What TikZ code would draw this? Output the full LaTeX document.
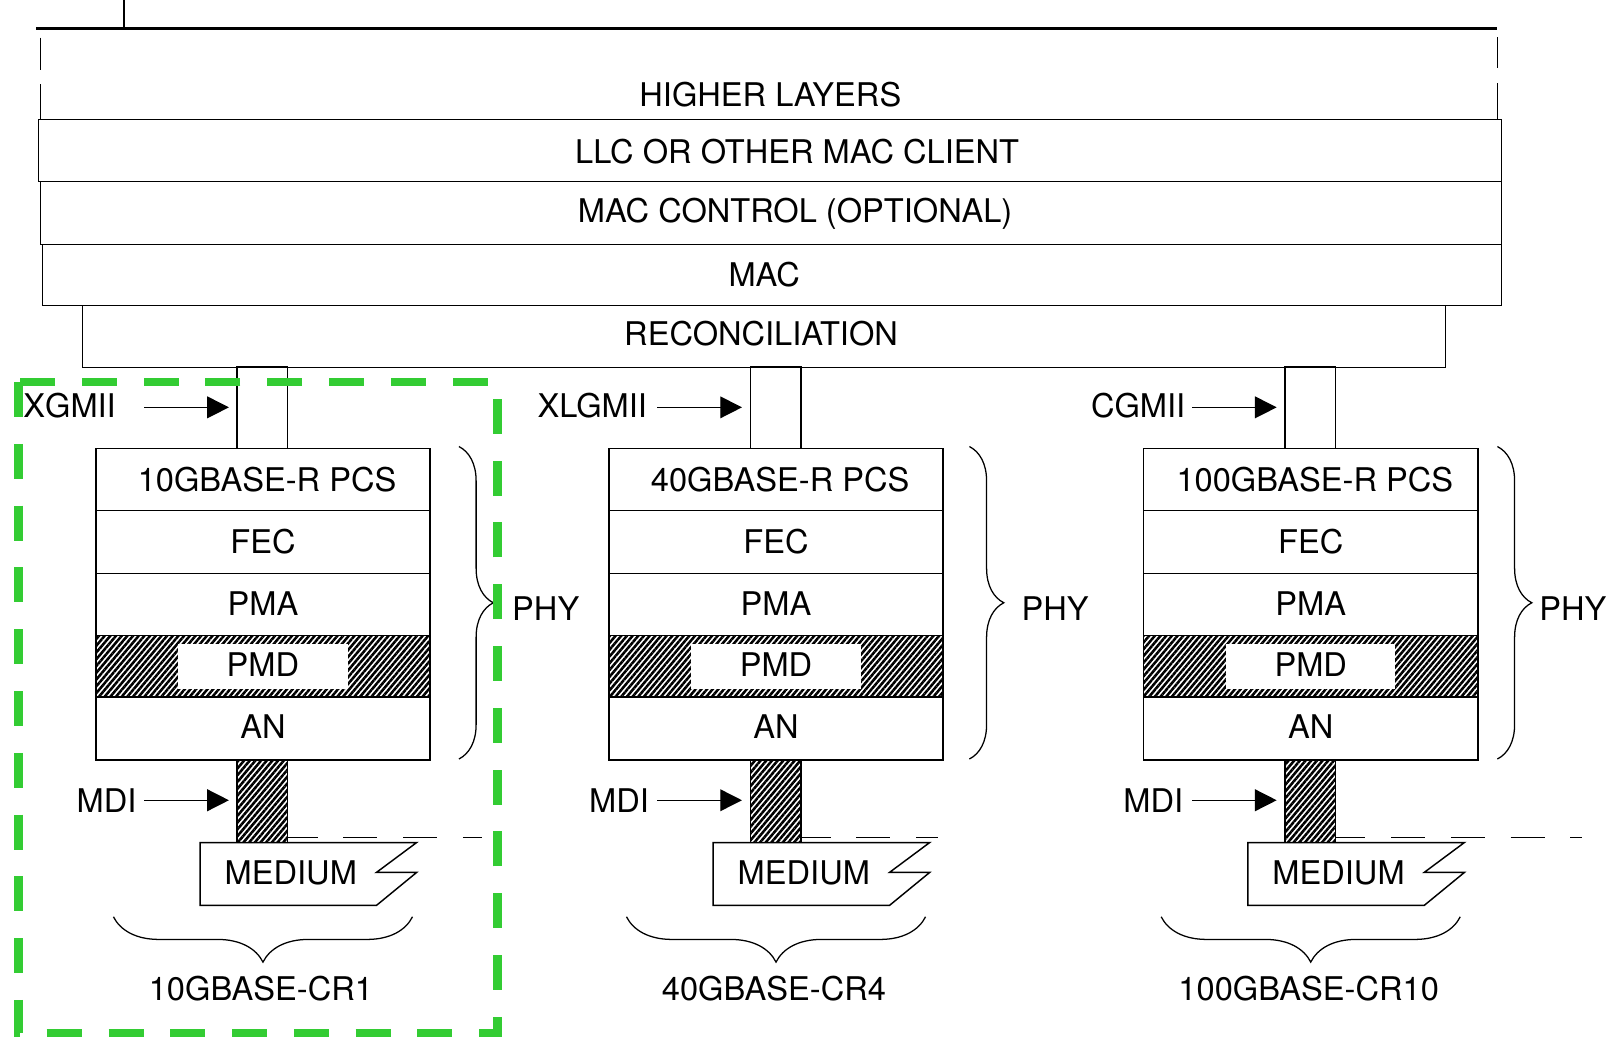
\documentclass[tikz,border=0pt]{standalone}
\usepackage{fontspec}
\setmainfont{TeX Gyre Heros}
\usetikzlibrary{arrows.meta,patterns.meta,decorations.pathreplacing}
\definecolor{boxgreen}{RGB}{51,204,51}

\begin{document}
\begin{tikzpicture}[x=0.02cm,y=-0.02cm,line width=0.8pt,
lbl/.style={inner sep=0pt,font=\fontsize{18}{21}\selectfont,text height=13pt,text depth=0pt},
hatch/.style={pattern={Lines[angle=50,distance=2.4pt,line width=1.4pt]}},
arr/.style={-{Triangle[length=12pt,width=12pt]}},
phybrace/.style={decorate,decoration={brace,amplitude=19pt},line width=0.7pt},
crbrace/.style={decorate,decoration={brace,amplitude=25pt},line width=0.7pt},
medline/.style={line width=0.7pt,dash pattern=on 18.8pt off 14.2pt,dash phase=2.3pt},
greenbox/.style={boxgreen,line width=4.6pt,dash pattern=on 19.3pt off 14.8pt}]
\useasboundingbox (0,0) rectangle (1568,1013);
\draw[line width=1.5pt] (35,27.8) -- (1451.5,27.8);
\draw (120.3,0) -- (120.3,27.8);
\draw (39.5,36.5) -- (39.5,67.6) (39.5,81.5) -- (39.5,115.7);
\draw (1452,36) -- (1452,66) (1452,80.5) -- (1452,115.7);
\draw (37.5,115.7) rectangle (1456,176);
\draw (39.5,176) rectangle (1456,237);
\draw (41,237) rectangle (1456,296.5);
\draw (79.8,296.5) rectangle (1401.6,356.3);
\node[lbl] (hl) at (747,92) {HIGHER LAYERS};
\node[lbl] (llc) at (773,147) {LLC OR OTHER MAC CLIENT};
\node[lbl] (macctl) at (771,204) {MAC CONTROL (OPTIONAL)};
\node[lbl] (mac) at (741,266) {MAC};
\node[lbl] (rs) at (738,324) {RECONCILIATION};
\foreach \sx/\n/\pcs/\mii/\mx/\dx/\crname/\bx/\px/\dend in {93/1/10GBASE-R PCS/XGMII/113/133/10GBASE-CR1/445/496/467,
  590.5/2/40GBASE-R PCS/XLGMII/628/630/40GBASE-CR4/940/990/910,
  1109/3/100GBASE-R PCS/CGMII/1150/1148/100GBASE-CR10/1452/1492/1534}{
  \draw[hatch] (\sx,616) rectangle ++(324,60);
  \fill[white] (\sx+80,624) rectangle ++(164,44);
  \draw (\sx,435) rectangle ++(324,302);
  \foreach \y in {495,556,616,676} \draw (\sx,\y) -- ++(324,0);
  \draw (\sx+137,355.5) rectangle (\sx+186,435);
  \draw[hatch] (\sx+137,737) rectangle (\sx+186,817);
  \draw (\sx+101,817) -- (\sx+311,817) -- (\sx+272,846) -- (\sx+311,846) -- (\sx+272,878) -- (\sx+101,878) -- cycle;
  \draw[medline] (\sx+186,812) -- (\dend,812);
  \node[lbl] (pcs\n) at (\sx+166,465) {\pcs};
  \node[lbl] (fec\n) at (\sx+162,525) {FEC};
  \node[lbl] (pma\n) at (\sx+162,585) {PMA};
  \node[lbl] (pmd\n) at (\sx+162,645) {PMD};
  \node[lbl] (an\n) at (\sx+162,705) {AN};
  \node[lbl] (med\n) at (\sx+189,846) {MEDIUM};
  \node[lbl,anchor=east] (mii\n) at (\mx,393) {\mii};
  \node[lbl,anchor=east] (mdi\n) at (\dx,776) {MDI};
  \path (\sx+47,395) coordinate (miia\n) (\sx+129,395) coordinate (miib\n)
        (\sx+47,776) coordinate (mdia\n) (\sx+129,776) coordinate (mdib\n);
  \draw[arr] (miia\n) -- (miib\n);
  \draw[arr] (mdia\n) -- (mdib\n);
  \draw[phybrace] (\bx,433) -- (\bx,736);
  \node[lbl,anchor=west] (phy\n) at (\px,590) {PHY};
  \draw[crbrace] (\sx+307,889) -- (\sx+17,889);
  \node[lbl] (cr\n) at (\sx+160,959) {\crname};
}
\draw[greenbox] (17.8,370.5) -- (17.8,1002) -- (482.5,1002) -- (482.5,370.5) -- cycle;
\end{tikzpicture}
\end{document}
